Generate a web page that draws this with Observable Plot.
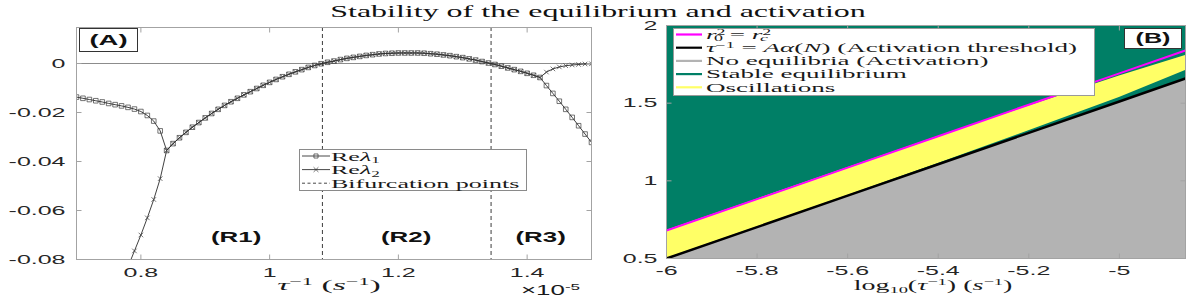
<!DOCTYPE html>
<html><head><meta charset="utf-8">
<script src="https://cdn.jsdelivr.net/npm/d3@7"></script>
<script src="https://cdn.jsdelivr.net/npm/@observablehq/plot@0.6"></script>
<style>
html,body{margin:0;padding:0;background:#fff;}
#fig{position:relative;width:1196px;height:299px;overflow:hidden;background:#fff;}
#fig > svg{position:absolute;top:0;}
</style></head><body><div id="fig"></div>
<script>
// ---------- Panel A data (tau^-1 in units of 1e-5 s^-1) ----------
const tauInv = [
  0.70,0.71,0.72,0.73,0.74,0.75,0.76,0.77,0.78,0.79,
  0.80,0.81,0.82,0.83,0.84,0.85,0.86,0.87,0.88,0.89,
  0.90,0.91,0.92,0.93,0.94,0.95,0.96,0.97,0.98,0.99,
  1.00,1.01,1.02,1.03,1.04,1.05,1.06,1.07,1.08,1.09,
  1.10,1.11,1.12,1.13,1.14,1.15,1.16,1.17,1.18,1.19,
  1.20,1.21,1.22,1.23,1.24,1.25,1.26,1.27,1.28,1.29,
  1.30,1.31,1.32,1.33,1.34,1.35,1.36,1.37,1.38,1.39,
  1.40,1.41,1.42,1.43,1.44,1.45,1.46,1.47,1.48,1.49,
  1.50];
const reLambda1 = [
  -0.0137,-0.0142,-0.0147,-0.0152,-0.0157,-0.0163,-0.0168,-0.0173,-0.0179,-0.0186,
  -0.0196,-0.0212,-0.0235,-0.0275,-0.0355,-0.0327,-0.0303,-0.0281,-0.0260,-0.0241,
  -0.0222,-0.0204,-0.0187,-0.0171,-0.0156,-0.0142,-0.0128,-0.0115,-0.0102,-0.0089,
  -0.0077,-0.0065,-0.0054,-0.0044,-0.0034,-0.0025,-0.0016,-0.0008,-0.0001,0.0005,
  0.0010,0.0016,0.0021,0.0025,0.0029,0.0033,0.0036,0.0039,0.0041,0.0042,
  0.0043,0.0043,0.0043,0.0043,0.0042,0.0040,0.0038,0.0035,0.0032,0.0028,
  0.0024,0.0019,0.0014,0.0008,0.0002,-0.0004,-0.0011,-0.0018,-0.0025,-0.0032,
  -0.0040,-0.0048,-0.0057,-0.0090,-0.0122,-0.0154,-0.0187,-0.0220,-0.0254,-0.0288,
  -0.0322];
const reLambda2 = [
  null,null,null,null,null,null,null,null,-0.0830,-0.0765,
  -0.0700,-0.0630,-0.0555,-0.0470,-0.0355,-0.0327,-0.0303,-0.0281,-0.0260,-0.0241,
  -0.0222,-0.0204,-0.0187,-0.0171,-0.0156,-0.0142,-0.0128,-0.0115,-0.0102,-0.0089,
  -0.0077,-0.0065,-0.0054,-0.0044,-0.0034,-0.0025,-0.0016,-0.0008,-0.0001,0.0005,
  0.0010,0.0016,0.0021,0.0025,0.0029,0.0033,0.0036,0.0039,0.0041,0.0042,
  0.0043,0.0043,0.0043,0.0043,0.0042,0.0040,0.0038,0.0035,0.0032,0.0028,
  0.0024,0.0019,0.0014,0.0008,0.0002,-0.0004,-0.0011,-0.0018,-0.0025,-0.0032,
  -0.0040,-0.0048,-0.0057,-0.0035,-0.0022,-0.0014,-0.0009,-0.0006,-0.0004,-0.0002,
  -0.0001];
const bifurcationPoints = [1.082, 1.344];
const regionLabels = ["(R1)", "(R2)", "(R3)"];
const regionX = [0.948, 1.212, 1.421];
const regionY = -0.071;
const xDomainA = [0.7, 1.5];
const yDomainA = [-0.08, 0.0147];
const xTicksA = [0.8, 1, 1.2, 1.4];
const xTickLabelsA = ["0.8", "1", "1.2", "1.4"];
const yTicksA = [0, -0.02, -0.04, -0.06, -0.08];
const yTickLabelsA = ["0", "-0.02", "-0.04", "-0.06", "-0.08"];

// ---------- Panel B data (log10 tau^-1) ----------
const logTau = [-6, -5.8, -5.6, -5.4, -5.2, -5.0, -4.854];
const rcCritical = [0.68, 0.882, 1.085, 1.287, 1.49, 1.692, 1.839];
const activationThreshold = [0.5, 0.702, 0.905, 1.107, 1.309, 1.511, 1.659];
const oscTop = [0.68, 0.882, 1.085, 1.285, 1.482, 1.675, 1.807];
const oscBottom = [0.5, 0.702, 0.906, 1.112, 1.322, 1.537, 1.71];
const xDomainB = [-6, -4.854];
const yDomainB = [0.5, 2];
const xTicksB = [-6, -5.8, -5.6, -5.4, -5.2, -5];
const xTickLabelsB = ["-6", "-5.8", "-5.6", "-5.4", "-5.2", "-5"];
const yTicksB = [0.5, 1, 1.5, 2];
const yTickLabelsB = ["0.5", "1", "1.5", "2"];

const colors = {stable: "#007f66", osc: "#ffff66", noEq: "#b3b3b3", rc: "#ff00ff", act: "#000000"};
const titleText = "Stability of the equilibrium and activation";

// ---------- helpers ----------
const SANS = "Liberation Sans, Arial, sans-serif";
const SERIF = "Liberation Serif, Times New Roman, serif";
const FRAME = "#a3a3a3";
const tickSym = (dx, dy) => ({draw(ctx) { ctx.moveTo(0, 0); ctx.lineTo(dx, dy); }});
function tickMarks(xt, yt) {
  const o = {stroke: FRAME, fill: "none", strokeWidth: 1};
  return [
    Plot.dot(xt, {...o, x: d => d, frameAnchor: "bottom", symbol: tickSym(0, -5)}),
    Plot.dot(xt, {...o, x: d => d, frameAnchor: "top", symbol: tickSym(0, 5)}),
    Plot.dot(yt, {...o, y: d => d, frameAnchor: "left", symbol: tickSym(5, 0)}),
    Plot.dot(yt, {...o, y: d => d, frameAnchor: "right", symbol: tickSym(-5, 0)})
  ];
}
function stretchAll(svg, sx) {
  d3.select(svg).selectAll("text").each(function() {
    const t = this.getAttribute("transform") || "";
    this.setAttribute("transform", `${t} scale(${sx},1)`);
  });
}
function richText(sel, segs, size) {
  let cur = 0;
  for (const s of segs) {
    const shift = s.sup ? -0.34 * size : s.sub ? 0.2 * size : 0;
    const ts = sel.append("tspan").text(s.t).attr("dy", shift - cur);
    cur = shift;
    if (s.sup || s.sub) ts.attr("font-size", size * 0.66);
    if (s.it) ts.attr("font-style", "italic");
    if (s.dx) ts.attr("dx", s.dx);
  }
}
function label(parent, x, y, sx, opts, segs) {
  const g = parent.append("g").attr("transform", `translate(${x},${y}) scale(${sx},1)`);
  const t = g.append("text").attr("font-family", opts.font).attr("font-size", opts.size)
    .attr("fill", opts.fill || "#1a1a1a").attr("text-anchor", opts.anchor || "start");
  if (opts.weight) t.attr("font-weight", opts.weight);
  if (opts.baseline) t.attr("dominant-baseline", opts.baseline);
  richText(t, segs, opts.size);
  return t;
}

// ---------- Panel A ----------
const rowsA = tauInv.map((x, i) => ({x, l1: reLambda1[i], l2: reLambda2[i]}));
const plotA = Plot.plot({
  width: 598, height: 299, marginLeft: 76, marginRight: 7, marginTop: 27, marginBottom: 40,
  style: {fontFamily: SANS, fontSize: "13.5px", color: "#262626", background: "transparent", overflow: "visible"},
  x: {domain: xDomainA}, y: {domain: yDomainA},
  marks: [
    Plot.ruleY([0], {stroke: "#8c8c8c", strokeWidth: 1}),
    Plot.ruleX(bifurcationPoints, {stroke: "#3c3c3c", strokeWidth: 1, strokeDasharray: "4,3"}),
    Plot.line(rowsA, {x: "x", y: "l1", stroke: "#2b2b2b", strokeWidth: 0.9, clip: true}),
    Plot.line(rowsA, {x: "x", y: "l2", stroke: "#2b2b2b", strokeWidth: 0.9, clip: true}),
    Plot.dot(rowsA, {x: "x", y: "l1", symbol: "square", r: 2.6, stroke: "#3a3a3a", strokeWidth: 0.7, fill: "none", clip: true}),
    Plot.dot(rowsA, {x: "x", y: "l2", symbol: "times", r: 2.2, stroke: "#3a3a3a", strokeWidth: 0.7, fill: "none", clip: true}),
    Plot.text(regionLabels, {x: (d, i) => regionX[i], y: () => regionY, text: d => d, fontWeight: "bold", fontSize: 14, fill: "#111"}),
    Plot.frame({stroke: FRAME}),
    ...tickMarks(xTicksA, yTicksA),
    Plot.axisX(xTicksA, {tickSize: 0, tickPadding: 8, fontSize: 13.5, label: null,
      tickFormat: d => xTickLabelsA[xTicksA.indexOf(d)]}),
    Plot.axisY(yTicksA, {tickSize: 0, tickPadding: 11, fontSize: 13.5, label: null,
      tickFormat: d => yTickLabelsA[yTicksA.indexOf(d)]})
  ]
});
plotA.style.left = "0px";

// ---------- Panel B ----------
const rowsB = logTau.map((x, i) => ({x, rc: rcCritical[i], act: activationThreshold[i], lo: oscBottom[i], hi: oscTop[i]}));
const plotB = Plot.plot({
  width: 598, height: 299, marginLeft: 68, marginRight: 11, marginTop: 25, marginBottom: 41,
  style: {fontFamily: SANS, fontSize: "13.5px", color: "#262626", background: "transparent", overflow: "visible"},
  x: {domain: xDomainB}, y: {domain: yDomainB},
  marks: [
    Plot.frame({fill: colors.stable}),
    Plot.areaY(rowsB, {x: "x", y1: () => yDomainB[0], y2: "act", fill: colors.noEq}),
    Plot.areaY(rowsB, {x: "x", y1: "lo", y2: "hi", fill: colors.osc}),
    Plot.line(rowsB, {x: "x", y: "rc", stroke: colors.rc, strokeWidth: 2, clip: true}),
    Plot.line(rowsB, {x: "x", y: "act", stroke: colors.act, strokeWidth: 2.5, clip: true}),
    Plot.frame({stroke: FRAME}),
    ...tickMarks(xTicksB, yTicksB),
    Plot.axisX(xTicksB, {tickSize: 0, tickPadding: 7, fontSize: 13.5, label: null,
      tickFormat: d => xTickLabelsB[xTicksB.indexOf(d)]}),
    Plot.axisY(yTicksB, {tickSize: 0, tickPadding: 9, fontSize: 13.5, label: null,
      tickFormat: d => yTickLabelsB[yTicksB.indexOf(d)]})
  ]
});
plotB.style.left = "598px";

const fig = document.getElementById("fig");
fig.appendChild(plotA);
fig.appendChild(plotB);
stretchAll(plotA, 1.85);
stretchAll(plotB, 1.85);

// ---------- Overlay: title, labels, legends ----------
const ov = d3.select(fig).append("svg").attr("width", 1196).attr("height", 299)
  .style("left", "0px").style("overflow", "visible");

label(ov, 598, 17, 2.0, {font: SERIF, size: 16, anchor: "middle", fill: "#111"}, [{t: titleText}]);

// x labels
label(ov, 329, 290, 2.25, {font: SERIF, size: 15, anchor: "middle"},
  [{t: "τ", it: true}, {t: "−1", sup: true}, {t: "   (" }, {t: "s", it: true}, {t: "−1", sup: true}, {t: ")"}]);
label(ov, 521, 295, 1.85, {font: SANS, size: 14}, [{t: "×10"}, {t: "-5", sup: true}]);
label(ov, 933, 290, 2.0, {font: SERIF, size: 14, anchor: "middle"},
  [{t: "log"}, {t: "10", sub: true}, {t: "("}, {t: "τ", it: true}, {t: "−1", sup: true}, {t: ")  ("},
   {t: "s", it: true}, {t: "−1", sup: true}, {t: ")"}]);

// (A) and (B) boxes
ov.append("rect").attr("x", 79.5).attr("y", 28.5).attr("width", 58).attr("height", 23)
  .attr("fill", "#fff").attr("stroke", "#333");
label(ov, 108.5, 40, 1.83, {font: SANS, size: 15, weight: "bold", anchor: "middle", baseline: "central", fill: "#111"}, [{t: "(A)"}]);
ov.append("rect").attr("x", 1124.5).attr("y", 28.5).attr("width", 57).attr("height", 20)
  .attr("fill", "#fff").attr("stroke", "#333");
label(ov, 1153, 38.5, 1.8, {font: SANS, size: 14, weight: "bold", anchor: "middle", baseline: "central", fill: "#111"}, [{t: "(B)"}]);

// Legend A
const legendA = [
  {segs: [{t: "Re"}, {t: "λ", it: true}, {t: "1", sub: true}], marker: "square", dash: null},
  {segs: [{t: "Re"}, {t: "λ", it: true}, {t: "2", sub: true}], marker: "times", dash: null},
  {segs: [{t: "Bifurcation points"}], marker: null, dash: "3,2.5"}
];
ov.append("rect").attr("x", 299.5).attr("y", 149.5).attr("width", 227).attr("height", 41)
  .attr("fill", "#fff").attr("stroke", "#8a8a8a");
legendA.forEach((e, i) => {
  const y = 156 + i * 13.6;
  ov.append("line").attr("x1", 302).attr("x2", 330).attr("y1", y).attr("y2", y)
    .attr("stroke", "#333").attr("stroke-width", 0.9).attr("stroke-dasharray", e.dash);
  if (e.marker) {
    const sym = e.marker === "square" ? d3.symbolSquare : d3.symbolTimes;
    ov.append("path").attr("d", d3.symbol(sym, 2.3 * 2.3 * Math.PI)()).attr("transform", `translate(316,${y})`)
      .attr("fill", "none").attr("stroke", "#333").attr("stroke-width", 0.7);
  }
  label(ov, 331, y + 4.5, 2.0, {font: SERIF, size: 13}, e.segs);
});

// Legend B
const legendB = [
  {color: colors.rc, segs: [{t: "r", it: true}, {t: "2", sup: true}, {t: "0", sub: true, dx: -5.3}, {t: " = "}, {t: "r", it: true}, {t: "2", sup: true}, {t: "c", sub: true, it: true, dx: -5.3}]},
  {color: colors.act, segs: [{t: "τ", it: true}, {t: "−1", sup: true}, {t: " = "}, {t: "Aα", it: true}, {t: "("}, {t: "N", it: true}, {t: ") (Activation threshold)"}]},
  {color: colors.noEq, segs: [{t: "No equilibria (Activation)"}]},
  {color: colors.stable, segs: [{t: "Stable equilibrium"}]},
  {color: colors.osc, segs: [{t: "Oscillations"}]}
];
ov.append("rect").attr("x", 673.5).attr("y", 28.5).attr("width", 421).attr("height", 67)
  .attr("fill", "#fff").attr("stroke", "#9a9a9a");
legendB.forEach((e, i) => {
  const y = 34.5 + i * 13.2;
  ov.append("line").attr("x1", 676).attr("x2", 702).attr("y1", y).attr("y2", y)
    .attr("stroke", e.color).attr("stroke-width", 2.2);
  label(ov, 706, y + 4.3, 2.15, {font: SERIF, size: 12.6}, e.segs);
});
</script></body></html>
